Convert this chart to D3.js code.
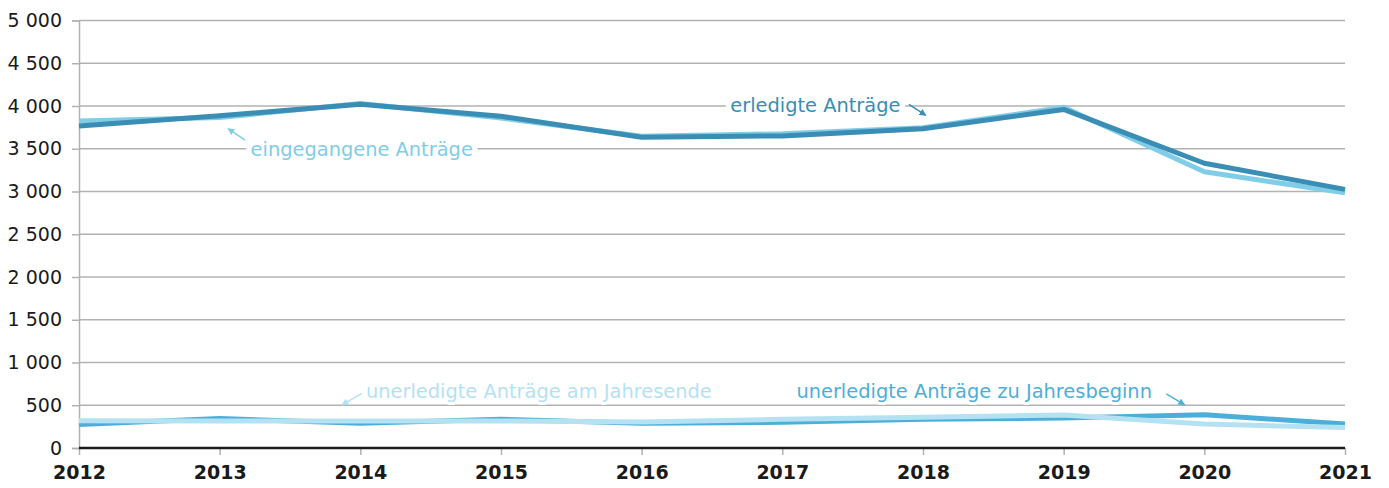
<!DOCTYPE html>
<html>
<head>
<meta charset="utf-8">
<script src="https://cdn.jsdelivr.net/npm/d3@7"></script>
<style>
  body { margin: 0; background: #fff; }
  svg { display: block; font-family: "DejaVu Sans", sans-serif; }
</style>
</head>
<body>
<svg width="1389" height="488"></svg>
<script>
const years = [2012, 2013, 2014, 2015, 2016, 2017, 2018, 2019, 2020, 2021];
const eingegangene = [3825, 3865, 4030, 3860, 3645, 3675, 3745, 3985, 3230, 2985];
const erledigte = [3765, 3885, 4020, 3880, 3635, 3650, 3735, 3960, 3330, 3025];
const unerledigtBeginn = [275, 345, 290, 335, 290, 300, 335, 350, 390, 280];
const unerledigtEnde = [320, 315, 315, 315, 305, 335, 360, 385, 280, 240];
const yTicks = [0, 500, 1000, 1500, 2000, 2500, 3000, 3500, 4000, 4500, 5000];

const series = [
  { name: "eingegangene Anträge", values: eingegangene, color: "#80cde8", width: 5 },
  { name: "erledigte Anträge", values: erledigte, color: "#3a8db4", width: 5 },
  { name: "unerledigte Anträge zu Jahresbeginn", values: unerledigtBeginn, color: "#4cafd9", width: 5 },
  { name: "unerledigte Anträge am Jahresende", values: unerledigtEnde, color: "#b4e2f3", width: 5 }
];

// label position (year, value) and arrow (from -> to) in data units
const labels = [
  { text: "erledigte Anträge", color: "#3a8db4", x: 2016.63, y: 3935, ax: [2017.9, 2018.02], ay: [4020, 3890], halo: 11 },
  { text: "eingegangene Anträge", color: "#80cde8", x: 2013.22, y: 3415, ax: [2013.18, 2013.06], ay: [3600, 3735], halo: 11 },
  { text: "unerledigte Anträge am Jahresende", color: "#b4e2f3", x: 2014.04, y: 585, ax: [2014.01, 2013.87], ay: [640, 505], halo: 6 },
  { text: "unerledigte Anträge zu Jahresbeginn", color: "#4cafd9", x: 2017.1, y: 585, ax: [2019.73, 2019.86], ay: [632, 505], halo: 6 }
];

const svg = d3.select("svg");
const area = { left: 79, right: 1345, top: 20.5, bottom: 448 };

const x = d3.scaleLinear().domain([2012, 2021]).range([area.left, area.right]);
const y = d3.scaleLinear().domain([0, 5000]).range([area.bottom, area.top]);

// horizontal grid
svg.append("g")
  .selectAll("line")
  .data(yTicks.filter(d => d > 0))
  .enter().append("line")
  .attr("x1", area.left).attr("x2", area.right)
  .attr("y1", d => y(d)).attr("y2", d => y(d))
  .attr("stroke", "#b2b2b2").attr("stroke-width", 1.5);

// y axis
const yAxis = svg.append("g")
  .attr("transform", `translate(${area.left},0)`)
  .call(d3.axisLeft(y).tickValues(yTicks).tickSize(7).tickPadding(10)
    .tickFormat(d => d3.format(",")(d).replace(",", " ")));
yAxis.select(".domain").attr("stroke", "#b2b2b2").attr("stroke-width", 1.5);
yAxis.selectAll(".tick line").attr("stroke", "#b2b2b2").attr("stroke-width", 1.5);
yAxis.selectAll("text").attr("font-size", 19).attr("fill", "#1a1a1a")
  .attr("font-family", "DejaVu Sans, sans-serif");

// x axis
const xAxis = svg.append("g")
  .attr("transform", `translate(0,${area.bottom})`)
  .call(d3.axisBottom(x).tickValues(years).tickSize(7).tickPadding(11).tickFormat(d3.format("d")));
xAxis.select(".domain").remove();
xAxis.selectAll(".tick line").attr("stroke", "#b2b2b2").attr("stroke-width", 1.5);
xAxis.selectAll("text").attr("font-size", 19).attr("font-weight", "bold").attr("fill", "#1a1a1a")
  .attr("font-family", "DejaVu Sans, sans-serif");
svg.append("line")
  .attr("x1", area.left).attr("x2", area.right)
  .attr("y1", y(0)).attr("y2", y(0))
  .attr("stroke", "#1a1a1a").attr("stroke-width", 2.5);

// labels (white halo cuts the gridlines)
const defs = svg.append("defs");
labels.forEach((l, i) => {
  defs.append("marker")
    .attr("id", "arr" + i)
    .attr("viewBox", "0 0 10 10").attr("refX", 9).attr("refY", 5)
    .attr("markerWidth", 7).attr("markerHeight", 7).attr("markerUnits", "userSpaceOnUse")
    .attr("orient", "auto")
    .append("path").attr("d", "M0,0 L10,5 L0,10 Z").attr("fill", l.color);
});

const lab = svg.append("g");
lab.selectAll("text")
  .data(labels)
  .enter().append("text")
  .attr("x", d => x(d.x)).attr("y", d => y(d.y))
  .attr("font-size", 19.4)
  .attr("fill", d => d.color)
  .attr("stroke", "#fff").attr("stroke-width", d => d.halo).attr("paint-order", "stroke")
  .attr("stroke-linejoin", "round")
  .text(d => d.text);
lab.selectAll("line")
  .data(labels)
  .enter().append("line")
  .attr("x1", d => x(d.ax[0])).attr("y1", d => y(d.ay[0]))
  .attr("x2", d => x(d.ax[1])).attr("y2", d => y(d.ay[1]))
  .attr("stroke", d => d.color).attr("stroke-width", 1.5)
  .attr("marker-end", (d, i) => `url(#arr${i})`);

// lines
const line = d3.line().x((d, i) => x(years[i])).y(d => y(d));
svg.append("g")
  .selectAll("path")
  .data(series)
  .enter().append("path")
  .attr("d", d => line(d.values))
  .attr("fill", "none")
  .attr("stroke", d => d.color)
  .attr("stroke-width", d => d.width)
  .attr("stroke-linejoin", "round");
</script>
</body>
</html>
